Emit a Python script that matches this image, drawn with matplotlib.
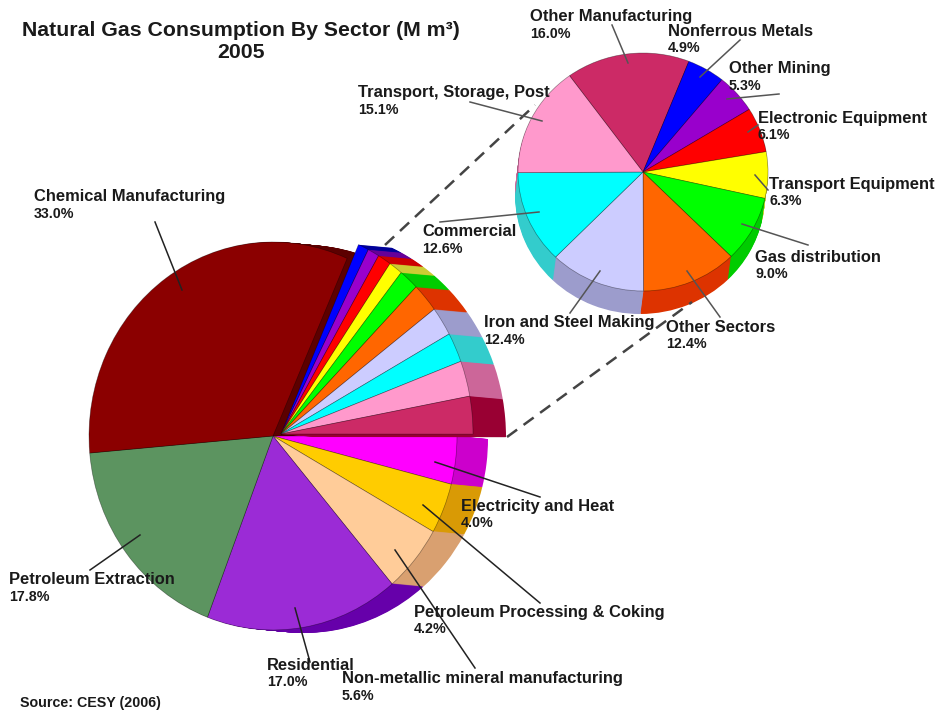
import matplotlib
matplotlib.use("Agg")
import matplotlib.pyplot as plt

plt.rcParams['font.family'] = ['Liberation Sans', 'DejaVu Sans']

W, H = 942, 712

# ---- data ----
main_names = ["Electricity and Heat", "Petroleum Processing & Coking",
              "Non-metallic mineral manufacturing", "Residential",
              "Petroleum Extraction", "Chemical Manufacturing"]
main_values = [4.0, 4.2, 5.6, 17.0, 17.8, 33.0]
main_colors = ["#ff00ff", "#ffcc00", "#ffcc99", "#9b2bd6", "#5c9460", "#8b0000"]
main_sides = ["#cc00cc", "#d99a05", "#d9a070", "#6600aa", "#3f6b44", "#5c0000"]

other_share = 18.4
other_names = ["Other Manufacturing", "Nonferrous Metals", "Other Mining",
               "Electronic Equipment", "Transport Equipment", "Gas distribution",
               "Other Sectors", "Iron and Steel Making", "Commercial",
               "Transport, Storage, Post"]
other_values = [16.0, 4.9, 5.3, 6.1, 6.3, 9.0, 12.4, 12.4, 12.6, 15.1]
other_colors = ["#cc2a66", "#0000ff", "#9900cc", "#ff0000", "#ffff00",
                "#00ff00", "#ff6600", "#ccccff", "#00ffff", "#ff99cc"]
other_sides = ["#990033", "#000099", "#660099", "#cc0000", "#cccc33",
               "#00cc00", "#dd3300", "#9c9ccc", "#33cccc", "#cc6699"]

# ---- layout ----
fig = plt.figure(figsize=(W / 100, H / 100), dpi=100, facecolor="white")


def pie_axes(cx, cy, rx, ry, z):
    ax = fig.add_axes([0, 0, 1, 1], zorder=z)
    ax.patch.set_alpha(0)
    lims = (-cx / rx, (W - cx) / rx), (-(H - cy) / ry, cy / ry)
    return ax, lims


def draw_pie(ax, lims, values, colors, sides, rx, ry, start, off, steps, normalize):
    for i in range(steps, 0, -1):
        t = i / steps
        ax.pie(values, colors=sides, startangle=start, counterclock=False,
               normalize=normalize,
               center=(off[0] * t / rx, -off[1] * t / ry),
               wedgeprops=dict(linewidth=0.6, edgecolor="none"))
    ax.pie(values, colors=colors, startangle=start, counterclock=False,
           normalize=normalize,
           wedgeprops=dict(linewidth=0.5, edgecolor="#00000066"))
    ax.set_aspect("auto")
    ax.set_xlim(*lims[0])
    ax.set_ylim(*lims[1])
    ax.axis("off")


# main pie
RX, RY = 184, 194
ax1, l1 = pie_axes(273, 436, RX, RY, 1)
draw_pie(ax1, l1, [v / 100 for v in main_values], main_colors, main_sides,
         RX, RY, 0, (31, 3), 31, False)

# pulled-out part of main pie, clockwise from the chemical slice
sub_idx = list(range(1, len(other_values))) + [0]
ax2, l2 = pie_axes(281, 434, 192, 207, 2)
draw_pie(ax2, l2, [other_values[i] / sum(other_values) * other_share / 100 for i in sub_idx],
         [other_colors[i] for i in sub_idx], [other_sides[i] for i in sub_idx],
         192, 207, 66.2, (33, 3), 33, False)

# breakout pie
ax3, l3 = pie_axes(643, 172, 125, 119, 3)
draw_pie(ax3, l3, other_values, other_colors, other_sides,
         125, 119, 126, (-3, 23), 23, True)

# overlay in pixel coordinates for annotation
ov = fig.add_axes([0, 0, 1, 1], zorder=5)
ov.patch.set_alpha(0)
ov.set_xlim(0, W)
ov.set_ylim(H, 0)
ov.axis("off")

for (x0, y0, x1, y1) in [(385, 245, 535, 105), (507, 437, 692, 302)]:
    ov.plot([x0, x1], [y0, y1], color="#444444", lw=1.8, ls=(0, (5, 3.2)))

dark_leaders = [(155, 222, 182, 290), (90, 570, 140, 535), (310, 662, 295, 608),
                (475, 668, 395, 550), (540, 603, 423, 505), (540, 497, 435, 462)]
gray_leaders = [(612, 25, 628, 63), (740, 40, 700, 77), (779, 94, 727, 99),
                (758, 125, 748, 132), (768, 190, 755, 175), (808, 245, 742, 224),
                (720, 317, 687, 271), (570, 313, 600, 271), (440, 222, 539, 212),
                (470, 102, 542, 121)]
for (x0, y0, x1, y1) in dark_leaders:
    ov.plot([x0, x1], [y0, y1], color="#222222", lw=1.1)
for (x0, y0, x1, y1) in gray_leaders:
    ov.plot([x0, x1], [y0, y1], color="#555555", lw=1.1)

TC = "#1a1a1a"
ov.text(241, 31, "Natural Gas Consumption By Sector (M m³)", fontsize=15.3,
        fontweight="bold", color=TC, ha="center", va="center")
ov.text(241, 53, "2005", fontsize=15.3, fontweight="bold", color=TC, ha="center", va="center")

main_pos = [(461, 506), (414, 612), (342, 679), (267, 665), (9, 580), (34, 197)]
other_pos = [(530, 17), (668, 31), (729, 69), (758, 118), (769, 184), (755, 257),
             (666, 327), (484, 323), (422, 232), (358, 93)]
for names, vals, pos in [(main_names, main_values, main_pos),
                         (other_names, other_values, other_pos)]:
    for n, v, (x, y) in zip(names, vals, pos):
        ov.text(x, y, n, fontsize=11.9, fontweight="bold", color=TC, ha="left", va="center")
        ov.text(x, y + 17, f"{v:.1f}%", fontsize=10.3, fontweight="bold", color=TC,
                ha="left", va="center")

ov.text(20, 703, "Source: CESY (2006)", fontsize=10.3, fontweight="bold", color=TC,
        ha="left", va="center")

fig.savefig("out.png", dpi=100, facecolor="white")
